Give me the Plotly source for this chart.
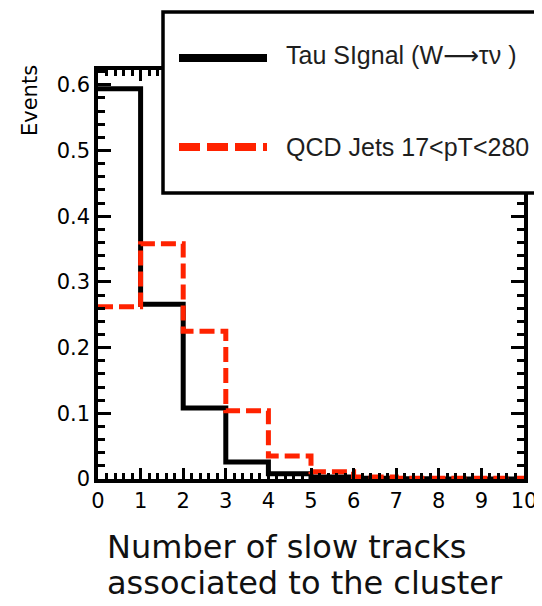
import plotly.graph_objects as go

# ---- data (bin edges and normalized contents) ----
bin_edges = [0, 1, 2, 3, 4, 5, 6, 7, 8, 9, 10]
tau_signal = [0.594, 0.266, 0.108, 0.026, 0.008, 0.003, 0.001, 0.0005, 0.0, 0.0]
qcd_jets = [0.262, 0.358, 0.225, 0.104, 0.035, 0.011, 0.003, 0.001, 0.001, 0.001]

tau_name = "Tau SIgnal (W\u2192\u03c4\u03bd)"
tau_label = "Tau SIgnal (W<span style='font-family:DejaVu Sans'>\u27f6</span>\u03c4\u03bd )"
qcd_name = "QCD Jets 17<pT<280"
x_title_lines = ["Number of slow tracks", "associated to the cluster"]
y_title = "Events"
y_tick_vals = [0, 0.1, 0.2, 0.3, 0.4, 0.5, 0.6]
y_tick_text = ["0", "0.1", "0.2", "0.3", "0.4", "0.5", "0.6"]
x_tick_vals = list(range(0, 11))

# page body has an 8px default margin; compensate
OFF = 8
W, H = 542 - OFF, 606 - OFF
L, R, T, B = 98 - OFF, 18, 70 - OFF, 127
RED = "#ff2200"

def px(xp):
    return (xp - OFF - L) / (W - L - R)

def py(yp):
    return (H - B - (yp - OFF)) / (H - B - T)

fig = go.Figure()
fig.add_trace(go.Scatter(
    x=bin_edges, y=tau_signal + [tau_signal[-1]], mode="lines",
    line=dict(shape="hv", color="black", width=5), name=tau_name, showlegend=False))
fig.add_trace(go.Scatter(
    x=bin_edges, y=qcd_jets + [qcd_jets[-1]], mode="lines",
    line=dict(shape="hv", color=RED, width=5, dash="15px,6px"), name=qcd_name, showlegend=False))

tickfont = dict(family="DejaVu Sans", size=21, color="black")
fig.update_layout(
    width=W, height=H,
    margin=dict(l=L, r=R, t=T, b=B, autoexpand=False),
    paper_bgcolor="white", plot_bgcolor="white",
    xaxis=dict(range=[0, 10], tickvals=x_tick_vals, ticks="inside", ticklen=11, tickwidth=2.5,
               tickcolor="black", showline=True, linecolor="black", linewidth=3.5, mirror="ticks",
               showgrid=False, zeroline=False, tickfont=tickfont,
               minor=dict(dtick=0.2, ticks="inside", ticklen=6, tickwidth=2.5, tickcolor="black", showgrid=False)),
    yaxis=dict(range=[0, 0.6225], tickvals=y_tick_vals, ticktext=y_tick_text,
               ticks="inside", ticklen=13, tickwidth=2.5,
               tickcolor="black", showline=True, linecolor="black", linewidth=3.5, mirror="ticks",
               showgrid=False, zeroline=False, tickfont=tickfont,
               minor=dict(dtick=0.02, ticks="inside", ticklen=7, tickwidth=2.5, tickcolor="black", showgrid=False)),
)

shapes = [
    dict(type="rect", xref="paper", yref="paper", x0=px(163), x1=px(560), y0=py(193), y1=py(12),
         line=dict(color="black", width=3.5), fillcolor="white", layer="above"),
    dict(type="line", xref="paper", yref="paper", x0=px(179), x1=px(267), y0=py(58), y1=py(58),
         line=dict(color="black", width=8), layer="above"),
    dict(type="line", xref="paper", yref="paper", x0=px(179), x1=px(267), y0=py(147), y1=py(147),
         line=dict(color=RED, width=8, dash="21px,7px"), layer="above"),
]
fig.update_layout(shapes=shapes)

ann = [
    dict(text=tau_label, x=px(284), y=py(56), xref="paper", yref="paper", xanchor="left", yanchor="middle",
         showarrow=False, font=dict(family="Liberation Sans", size=25, color="#1e1e1e")),
    dict(text=qcd_name, x=px(284), y=py(147), xref="paper", yref="paper", xanchor="left", yanchor="middle",
         showarrow=False, font=dict(family="Liberation Sans", size=25, color="#1e1e1e")),
    dict(text=y_title, x=px(30), y=py(101), xref="paper", yref="paper", xanchor="center", yanchor="middle",
         textangle=-90, showarrow=False, font=dict(family="DejaVu Sans", size=21, color="black")),
    dict(text=x_title_lines[0], x=px(105), y=py(547), xref="paper", yref="paper", xanchor="left", yanchor="middle",
         showarrow=False, font=dict(family="DejaVu Sans", size=32, color="#111")),
    dict(text=x_title_lines[1], x=px(105), y=py(583), xref="paper", yref="paper", xanchor="left", yanchor="middle",
         showarrow=False, font=dict(family="DejaVu Sans", size=32, color="#111")),
]
fig.update_layout(annotations=ann)

fig.write_html("out.html")
